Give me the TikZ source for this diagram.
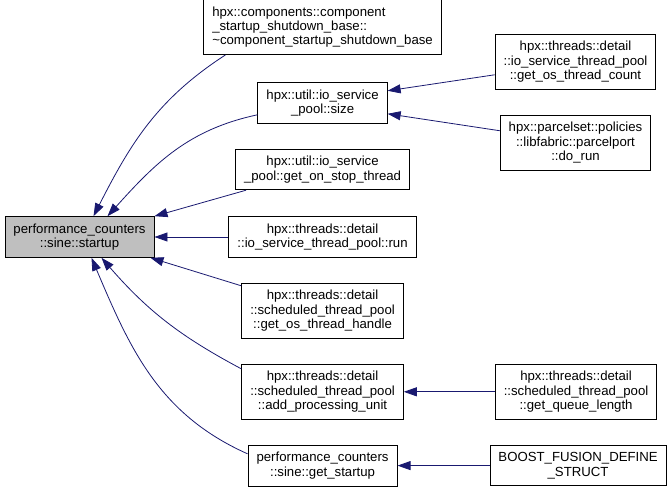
\documentclass[tikz,border=0pt]{standalone}
\usepackage{fontspec}
\setmainfont{Liberation Sans}
\usetikzlibrary{arrows.meta, positioning}

\definecolor{edgeblue}{HTML}{191970}
\definecolor{focusgray}{HTML}{BFBFBF}

\begin{document}
\begin{tikzpicture}[
        x=1pt, y=1pt,
        node distance=25pt and 74pt,
        fnbox/.style={rectangle, draw=black, line width=0.9pt, fill=white, align=center, inner xsep=8.5pt, inner ysep=7pt, font=\fontsize{13.2}{14.4}\selectfont},
        link/.style={{Triangle[length=13pt,width=9pt]}-, line width=0.8pt, draw=edgeblue}
    ]
    \useasboundingbox (0,0) rectangle (672,-490);

    \node[fnbox, fill=focusgray] (startup) at (79.5,-237) {performance\_counters\\::sine::startup};
    \node[fnbox, right=of startup] (poolrun) {hpx::threads::detail\\::io\_service\_thread\_pool::run};
    \node[fnbox, above=26pt of poolrun] (stopthread) {hpx::util::io\_service\\\_pool::get\_on\_stop\_thread};
    \node[fnbox, above=of stopthread] (poolsize) {hpx::util::io\_service\\\_pool::size};
    \node[fnbox, above=27pt of poolsize, align=left] (compdtor) {hpx::components::component\\\_startup\_shutdown\_base::\\\textasciitilde component\_startup\_shutdown\_base};
    \node[fnbox, below=of poolrun] (threadhandle) {hpx::threads::detail\\::scheduled\_thread\_pool\\::get\_os\_thread\_handle};
    \node[fnbox, below=of threadhandle] (addunit) {hpx::threads::detail\\::scheduled\_thread\_pool\\::add\_processing\_unit};
    \node[fnbox, below=of addunit] (getstartup) {performance\_counters\\::sine::get\_startup};
    \node[fnbox, right=107pt of poolsize, yshift=41pt] (threadcount) {hpx::threads::detail\\::io\_service\_thread\_pool\\::get\_os\_thread\_count};
    \node[fnbox, below=of threadcount] (dorun) {hpx::parcelset::policies\\::libfabric::parcelport\\::do\_run};
    \node[fnbox, right=91pt of addunit] (queuelen) {hpx::threads::detail\\::scheduled\_thread\_pool\\::get\_queue\_length};
    \node[fnbox, right=92pt of getstartup] (fusionstruct) {BOOST\_FUSION\_DEFINE\\\_STRUCT};

    % callers of startup
    \draw[link] ([xshift=14pt]startup.north) to[out=63,in=-147] ([xshift=22pt]compdtor.south west);
    \draw[link] ([xshift=28pt]startup.north) to[out=48,in=-168] ([yshift=-12pt]poolsize.west);
    \draw[link] (startup.north east) -- ([xshift=11pt]stopthread.south west);
    \draw[link] (startup.east) -- (poolrun.west);
    \draw[link] ([xshift=-4pt]startup.south east) -- ([yshift=-3pt]threadhandle.north west);
    \draw[link] ([xshift=22pt]startup.south) to[out=-49,in=152] ([yshift=-5pt]addunit.north west);
    \draw[link] ([xshift=12pt]startup.south) to[out=-67,in=156] ([yshift=-9pt]getstartup.north west);

    % second level
    \draw[link] ([yshift=12pt]poolsize.east) -- ([yshift=-13pt]threadcount.west);
    \draw[link] ([yshift=-11pt]poolsize.east) -- ([yshift=12pt]dorun.west);
    \draw[link] (addunit.east) -- (queuelen.west);
    \draw[link] (getstartup.east) -- (fusionstruct.west);
\end{tikzpicture}
\end{document}
